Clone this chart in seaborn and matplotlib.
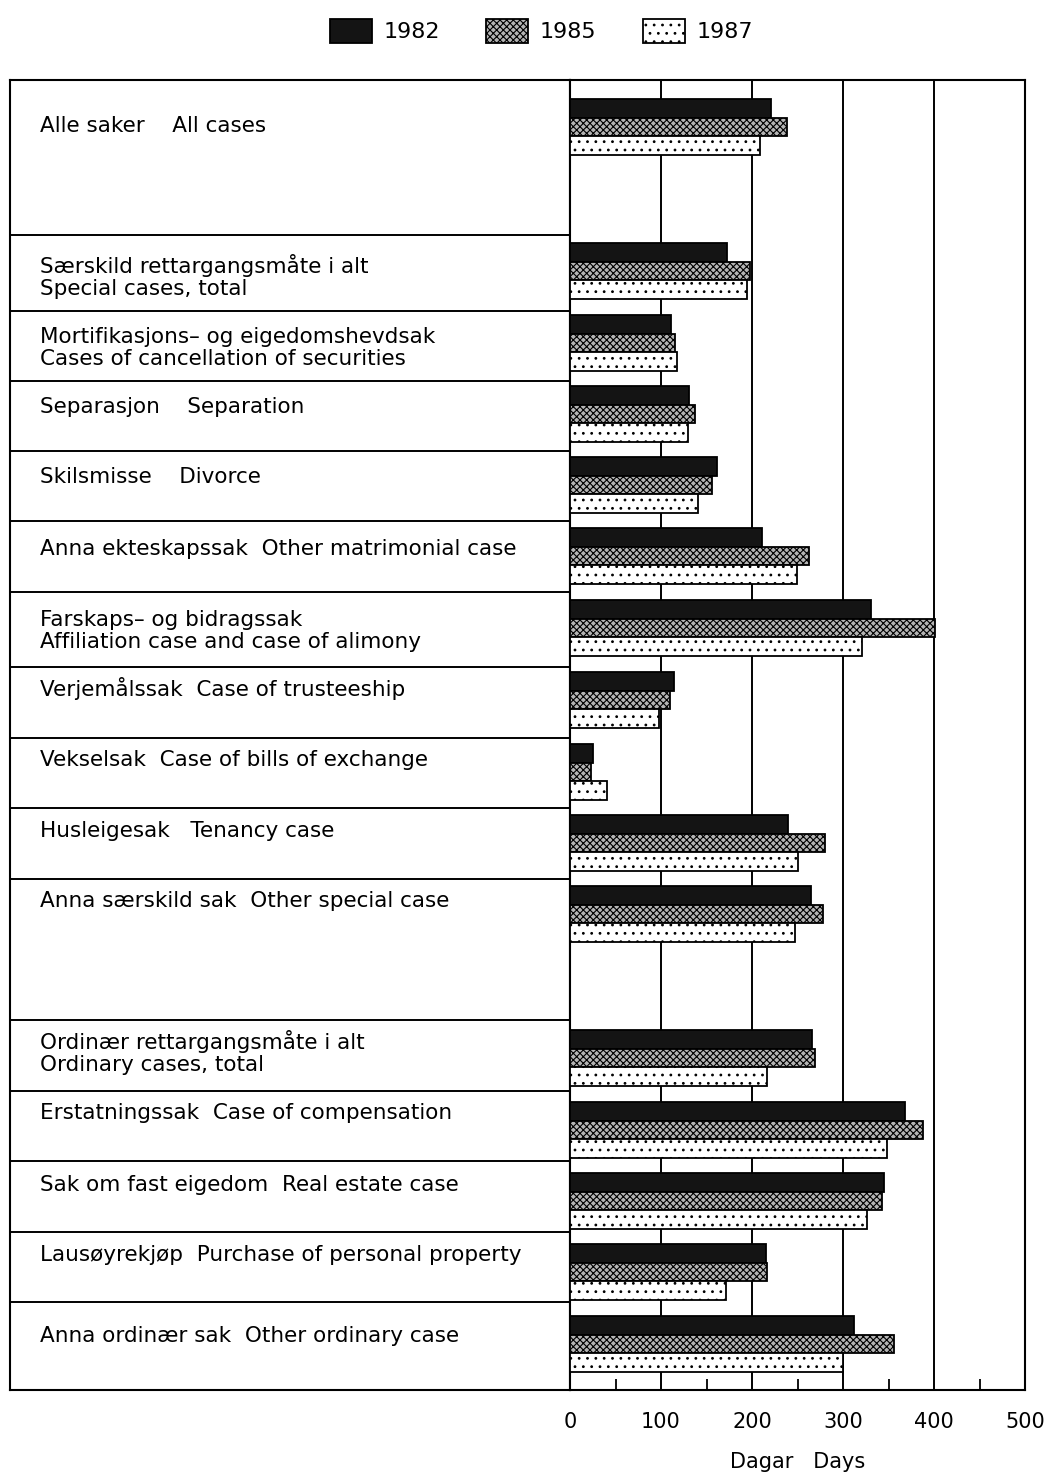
import numpy as np
import pandas as pd
import matplotlib
matplotlib.use("Agg")
import matplotlib.pyplot as plt
from matplotlib.patches import Patch
import seaborn as sns

# ---------------- data ----------------
categories = [
    "Alle saker    All cases",
    "Særskild rettargangsmåte i alt\nSpecial cases, total",
    "Mortifikasjons– og eigedomshevdsak\nCases of cancellation of securities",
    "Separasjon    Separation",
    "Skilsmisse    Divorce",
    "Anna ekteskapssak  Other matrimonial case",
    "Farskaps– og bidragssak\nAffiliation case and case of alimony",
    "Verjemålssak  Case of trusteeship",
    "Vekselsak  Case of bills of exchange",
    "Husleigesak   Tenancy case",
    "Anna særskild sak  Other special case",
    "Ordinær rettargangsmåte i alt\nOrdinary cases, total",
    "Erstatningssak  Case of compensation",
    "Sak om fast eigedom  Real estate case",
    "Lausøyrekjøp  Purchase of personal property",
    "Anna ordinær sak  Other ordinary case",
]
years = ["1982", "1985", "1987"]
v1982 = [221, 172, 111, 131, 161, 211, 331, 114, 25, 240, 265, 266, 368, 345, 215, 312]
v1985 = [239, 198, 115, 137, 156, 263, 401, 110, 23, 280, 278, 269, 388, 343, 216, 356]
v1987 = [209, 194, 118, 130, 141, 249, 321, 98, 41, 251, 247, 216, 348, 326, 171, 300]
x_ticks = [0, 100, 200, 300, 400, 500]
x_label = "Dagar   Days"

# ---------------- layout (pixel-like units from top) ----------------
row_heights = [155, 76, 70, 70, 70, 71, 75, 71, 70, 71, 141, 71, 70, 71, 70, 88]
top_y = 80
row_tops = top_y + np.concatenate([[0], np.cumsum(row_heights)[:-1]])
bottom_y = top_y + sum(row_heights)
bar_offsets = [47, 36, 32, 33, 34, 35, 36, 33, 34, 35, 35, 38, 39, 40, 40, 42]
group_pos = row_tops + np.array(bar_offsets)
label_offsets = [44, 30, 24, 24, 24, 26, 26, 21, 20, 21, 20, 21, 20, 22, 21, 32]
label_pos = row_tops + np.array(label_offsets)

values = {"1982": v1982, "1985": v1985, "1987": v1987}
df = pd.DataFrame({
    "pos": np.tile(group_pos, len(years)),
    "days": np.concatenate([values[y] for y in years]),
    "year": np.repeat(years, len(categories)),
})

face = {"1982": "#141414", "1985": "#b5b5b5", "1987": "#ffffff"}
hatch = {"1982": "", "1985": "xxxxx", "1987": ".."}

sns.set_style("white")
plt.rcParams["font.family"] = ["DejaVu Sans"]
plt.rcParams["text.color"] = "black"
plt.rcParams["axes.labelcolor"] = "black"
plt.rcParams["xtick.color"] = "black"
plt.rcParams["xtick.labelcolor"] = "black"
plt.rcParams["hatch.linewidth"] = 0.8
plt.rcParams["hatch.color"] = "black"

W, H = 1053, 1475
fig = plt.figure(figsize=(W / 100, H / 100), dpi=100)
axL = fig.add_axes([10 / W, (H - bottom_y) / H, 560 / W, (bottom_y - top_y) / H])
axR = fig.add_axes([570 / W, (H - bottom_y) / H, 455 / W, (bottom_y - top_y) / H])

# ---- bars ----
sns.barplot(data=df, x="days", y="pos", hue="year", hue_order=years, orient="h",
            native_scale=True, width=0.78, palette=face, saturation=1,
            edgecolor="black", linewidth=1.3, errorbar=None, legend=False, ax=axR)
for cont, yr in zip(axR.containers, years):
    for p in cont:
        p.set_hatch(hatch[yr])
        p.set_zorder(3)

for xv in x_ticks[1:-1]:
    axR.axvline(xv, color="black", lw=1.4, zorder=0.5)
axR.set_xlim(0, 500)
axR.set_ylim(bottom_y, top_y)
axR.set_ylabel("")
axR.set_yticks([])
axR.set_xticks(x_ticks)
axR.set_xticklabels([str(t) for t in x_ticks], fontsize=15, color="black")
axR.set_xticks([50, 150, 250, 350, 450], minor=True)
axR.tick_params(axis="x", which="major", length=0, pad=16)
axR.tick_params(axis="x", which="minor", direction="in", length=8, width=1.3,
                bottom=True, top=False, color="black")
axR.set_xlabel(x_label, fontsize=15, labelpad=14, color="black")
for s in axR.spines.values():
    s.set_color("black")
    s.set_linewidth(1.5)

# ---- label panel ----
axL.set_xlim(0, 560)
axL.set_ylim(bottom_y, top_y)
axL.set_xticks([])
axL.set_yticks([])
for yb in row_tops[1:]:
    axL.axhline(yb, color="black", lw=1.4)
for lab, yc in zip(categories, label_pos):
    for i, line in enumerate(lab.split("\n")):
        axL.text(30, yc + 7.5 + 22 * i, line, fontsize=15.5, va="baseline", ha="left",
                 color="black")
for s in axL.spines.values():
    s.set_color("black")
    s.set_linewidth(1.5)

# ---- legend ----
handles = [Patch(facecolor=face[y], edgecolor="black", hatch=hatch[y], linewidth=1.3,
                 label=y) for y in years]
leg = fig.legend(handles=handles, loc="center", bbox_to_anchor=(0.514, 1 - 31 / H), ncol=3,
                 frameon=False, fontsize=16, handlelength=1.9, handleheight=1.35,
                 handletextpad=0.5, columnspacing=2.1)
for t in leg.get_texts():
    t.set_color("black")

fig.savefig("out.png", dpi=100)
